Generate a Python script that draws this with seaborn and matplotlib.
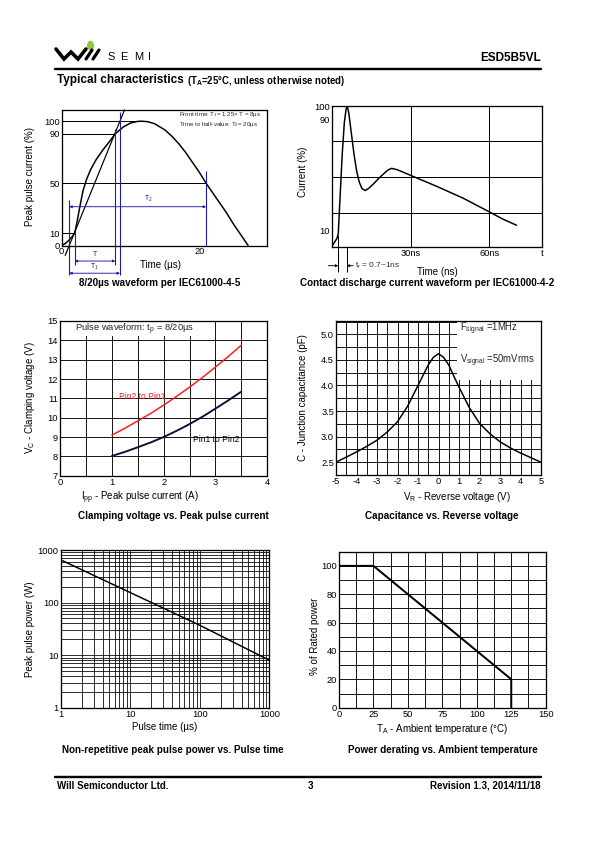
import numpy as np
import pandas as pd
import matplotlib
matplotlib.use("Agg")
import matplotlib.pyplot as plt
import seaborn as sns
from matplotlib.lines import Line2D
from matplotlib.patches import Circle, Rectangle

# ---------------- data ----------------
# 8/20us surge waveform (IEC61000-4-5)
wave_t = [0, 0.5, 1, 1.5, 1.9, 2.3, 2.7, 3.1, 3.6, 4.2, 5, 6, 7, 7.8, 9, 10, 11, 11.6,
          12.5, 13.5, 15, 16, 17, 18, 19, 20, 21, 22, 23, 24, 25, 26, 27.1]
wave_i = [0, 1.5, 4, 7, 10, 21, 33, 44, 53, 61, 69, 77, 84, 90, 95.5, 98.5, 99.8, 100,
          99.6, 98, 93, 88, 82, 75, 67, 59, 50, 42, 34, 26, 17, 9, 0]
ramp_t = [0.51, 9.13]
ramp_i = [-8, 109]
ref_levels = [100, 90, 50, 10]
ref_ends = [11.6, 7.8, 21, 1.9]

# ESD contact discharge waveform (IEC61000-4-2)
esd_t = [0, 1, 2, 2.5, 3.2, 4, 4.8, 5.5, 5.9, 6.5, 7.5, 8.5, 9.5, 10.5, 11.5, 12.7, 14, 16,
         18, 20, 21.5, 22.8, 25, 30, 40, 50, 60, 65, 70.3]
esd_i = [-1.5, 1.5, 4.5, 8, 35, 65, 88, 98, 100, 95, 80, 65, 53, 45, 40.5, 39, 40.5, 44,
         48, 51.5, 54, 55, 54, 50, 42, 33.5, 23.6, 18.5, 14]

# Clamping voltage vs peak pulse current
ipp = [1, 1.25, 1.5, 1.75, 2, 2.25, 2.5, 2.75, 3, 3.25, 3.5]
vc_pin2_pin1 = [9.1, 9.45, 9.83, 10.22, 10.65, 11.1, 11.58, 12.08, 12.62, 13.17, 13.75]
vc_pin1_pin2 = [8.02, 8.23, 8.47, 8.72, 9.0, 9.32, 9.67, 10.05, 10.47, 10.9, 11.35]

# Capacitance vs reverse voltage
vr = [-5, -4.5, -4, -3.5, -3, -2.5, -2, -1.5, -1, -0.75, -0.5, -0.25, 0,
      0.25, 0.5, 0.75, 1, 1.5, 2, 2.5, 3, 3.5, 4, 4.5, 5]
cj = [2.5, 2.6, 2.7, 2.81, 2.93, 3.09, 3.29, 3.6, 4.0, 4.2, 4.4, 4.55, 4.62,
      4.55, 4.4, 4.18, 3.97, 3.57, 3.26, 3.06, 2.9, 2.78, 2.68, 2.59, 2.5]

# Peak pulse power vs pulse time
tp = [1, 10, 100, 1000]
ppk = [650, 155, 37, 8]

# Power derating
ta = [0, 25, 125, 125]
prated = [100, 100, 20, 0]

# ---------------- style ----------------
sns.set_theme(style="white")
plt.rcParams['font.family'] = ['Liberation Sans', 'DejaVu Sans']
plt.rcParams['mathtext.fontset'] = 'custom'
plt.rcParams['mathtext.rm'] = 'Liberation Sans'
plt.rcParams['mathtext.it'] = 'Liberation Sans:italic'
plt.rcParams['mathtext.bf'] = 'Liberation Sans:bold'
plt.rcParams['axes.unicode_minus'] = False

W, H = 595, 842
fig = plt.figure(figsize=(W / 72, H / 72), dpi=72)
fig.patch.set_facecolor('white')

BLUE = '#1c1ca0'
TICK_FS = 9.2
LAB_FS = 9.8
TITLE_FS = 9.9


def fx(px):
    return px / W


def fy(py):
    return 1 - py / H


def make_ax(box):
    l, r, t, b = box
    ax = fig.add_axes([l / W, 1 - b / H, (r - l) / W, (b - t) / H])
    for s in ax.spines.values():
        s.set_color('black')
        s.set_linewidth(1.3)
        s.set_zorder(5)
    ax.tick_params(length=0, labelsize=TICK_FS, pad=2, colors='black')
    ax.set_facecolor('white')
    return ax


def afrac(box, px, py):
    l, r, t, b = box
    return (px - l) / (r - l), (b - py) / (b - t)


def xlabel(ax, box, s, px, py):
    ax.set_xlabel(s, fontsize=LAB_FS, color='black')
    ax.xaxis.label.set_verticalalignment('center')
    ax.xaxis.set_label_coords(*afrac(box, px, py))


def ylabel(ax, box, s, px, py):
    ax.set_ylabel(s, fontsize=LAB_FS, color='black')
    ax.yaxis.label.set_verticalalignment('center')
    ax.yaxis.set_label_coords(*afrac(box, px, py))


def ftext(px, py, s, **kw):
    kw.setdefault('va', 'center')
    kw.setdefault('color', 'black')
    fig.text(fx(px), fy(py), s, **kw)


def grid_black(ax, lw=0.9):
    ax.grid(True, which='both', color='black', linewidth=lw)
    ax.set_axisbelow(True)
    ax.tick_params(which='minor', length=0)


# ---------------- header / footer ----------------
logo_x = [56, 64, 71, 78, 86]
logo_y = [49, 59, 52, 59, 49]
fig.add_artist(Line2D([fx(v) for v in logo_x], [fy(v) for v in logo_y],
                      color='black', lw=3.6, solid_joinstyle='miter'))
fig.add_artist(Line2D([fx(86), fx(92)], [fy(59), fy(50)], color='black', lw=3.2))
fig.add_artist(Line2D([fx(93), fx(99)], [fy(59), fy(50)], color='black', lw=3.2))
fig.add_artist(Circle((fx(90.5), fy(45.5)), 3.0 / W, transform=fig.transFigure,
                      color='#8cc63e'))
for ch, x0 in zip("SEMI", [107, 120, 134, 148]):
    ftext(x0, 57, ch, fontsize=11, ha='left')
ftext(541, 58, "ESD5B5VL", fontsize=11.8, fontweight='bold', ha='right')
fig.add_artist(Line2D([fx(55), fx(541)], [fy(68.5), fy(68.5)], color='black', lw=2.4))
ftext(57, 80, "Typical characteristics", fontsize=11.8, fontweight='bold', ha='left')
ftext(187, 80.5, r"(T$_{\mathbf{A}}$=25°C, unless otherwise noted)", fontsize=9.6,
      fontweight='bold', ha='left')

fig.add_artist(Line2D([fx(55), fx(541)], [fy(777), fy(777)], color='black', lw=2.4))
ftext(57, 786, "Will Semiconductor Ltd.", fontsize=9.8, fontweight='bold', ha='left')
ftext(310, 786, "3", fontsize=9.8, fontweight='bold', ha='center')
ftext(541, 786, "Revision 1.3, 2014/11/18", fontsize=9.8, fontweight='bold', ha='right')

# ---------------- chart 1: 8/20us ----------------
box1 = (61.7, 267, 110, 245.5)
ax1 = make_ax(box1)
sns.lineplot(x=wave_t, y=wave_i, ax=ax1, color='black', lw=1.5, sort=False, estimator=None)
sns.lineplot(x=ramp_t, y=ramp_i, ax=ax1, color='black', lw=1.2, sort=False,
             estimator=None, clip_on=False)
ax1.hlines(ref_levels, 0, ref_ends, color='black', lw=1.0)
ax1.set_xlim(0, 29.85)
ax1.set_ylim(0, 109)
ax1.set_yticks([0, 10, 50, 90, 100])
ax1.set_xticks([0, 20])
for x0, y0, y1 in [(1.1, -23.8, 36.6), (1.9, -15.7, 11.1), (7.8, -15.7, 93.5),
                   (8.47, -23.8, 107.7), (21, 0, 60)]:
    ax1.vlines(x0, y0, y1, color=BLUE, lw=1.1, clip_on=False)


def darrow(ax, x0, x1, y, color=BLUE):
    ax.annotate('', xy=(x1, y), xytext=(x0, y), annotation_clip=False,
                arrowprops=dict(arrowstyle='<|-|>', color=color, lw=0.9,
                                shrinkA=0, shrinkB=0, mutation_scale=5))


darrow(ax1, 1.1, 21, 31.2)
ax1.text(12.6, 33.5, r"T$_2$", color=BLUE, fontsize=7, ha='center', va='bottom')
darrow(ax1, 1.9, 7.8, -12.5)
ax1.text(4.85, -7.0, "T", color=BLUE, fontsize=7, ha='center', va='center', clip_on=False)
darrow(ax1, 1.1, 8.47, -22.3)
ax1.text(4.8, -17.0, r"T$_1$", color=BLUE, fontsize=7, ha='center', va='center',
         clip_on=False)
ax1.text(17.0, 105, r"Front time: T$_1$= 1.25× T = 8µs", fontsize=6.1, ha='left', va='center')
ax1.text(17.0, 97, r"Time to half-value: T$_2$= 20µs", fontsize=6.1, ha='left', va='center')
xlabel(ax1, box1, "Time (µs)", 160, 265)
ylabel(ax1, box1, "Peak pulse current (%)", 30, 177)
ftext(160, 282.5, "8/20µs waveform per IEC61000-4-5", fontsize=TITLE_FS,
      fontweight='bold', ha='center')

# ---------------- chart 2: ESD waveform ----------------
box2 = (331.7, 542, 106, 246.7)
ax2 = make_ax(box2)
sns.lineplot(x=esd_t, y=esd_i, ax=ax2, color='black', lw=1.5, sort=False, estimator=None)
ax2.set_xlim(0, 80)
ax2.set_ylim(-1.5, 100)
ax2.set_yticks([10, 90, 100])
ax2.set_yticks([22.9, 48.8, 74.4], minor=True)
ax2.set_xticks([30, 60, 80], labels=['30ns', '60ns', 't'])
ax2.xaxis.grid(True, which='major', color='black', lw=1.0)
ax2.yaxis.grid(True, which='minor', color='black', lw=1.0)
ax2.tick_params(which='minor', length=0)
ax2.tick_params(axis='y', length=3, direction='in', width=1)
ax2.vlines(2.5, -19.5, 7, color='black', lw=1.0, clip_on=False)
ax2.vlines(5.7, -19.5, -1.5, color='black', lw=1.0, clip_on=False)
for xs, xe in [(-1.3, 2.5), (8.2, 5.7)]:
    ax2.annotate('', xy=(xe, -15.2), xytext=(xs, -15.2), annotation_clip=False,
                 arrowprops=dict(arrowstyle='-|>', color='black', lw=0.9,
                                 shrinkA=0, shrinkB=0, mutation_scale=5))
ax2.text(8.8, -15.2, r"t$_r$ = 0.7~1ns", fontsize=8.3, ha='left', va='center', clip_on=False)
xlabel(ax2, box2, "Time (ns)", 437, 271.5)
ylabel(ax2, box2, "Current (%)", 303.5, 172)
ftext(426.7, 282.5, "Contact discharge current waveform per IEC61000-4-2",
      fontsize=TITLE_FS, fontweight='bold', ha='center')

# ---------------- chart 3: clamping voltage ----------------
box3 = (60, 267.3, 321, 475.7)
ax3 = make_ax(box3)
grid_black(ax3)
sns.lineplot(x=ipp, y=vc_pin2_pin1, ax=ax3, color='#ff1a1a', lw=1.5, estimator=None)
sns.lineplot(x=ipp, y=vc_pin1_pin2, ax=ax3, color='#0d0d3a', lw=1.9, estimator=None)
ax3.set_xlim(0, 4)
ax3.set_ylim(7, 15)
ax3.set_xticks(np.arange(0, 4.01, 1))
ax3.set_xticks(np.arange(0, 4.01, 0.5), minor=True)
ax3.set_yticks(np.arange(7, 15.01, 1))
ax3.add_patch(Rectangle((0.19, 14.22), 2.38, 0.78, facecolor='white', edgecolor='none',
                        zorder=3))
ax3.text(0.29, 14.57, r"Pulse waveform: t$_{\rm p}$ = 8/20µs", fontsize=9.4,
         ha='left', va='center', zorder=4)
ax3.text(1.13, 11.1, "Pin2 to Pin1", color='#ff1a1a', fontsize=8.5, ha='left', va='center')
ax3.text(2.57, 8.88, "Pin1 to Pin2", color='black', fontsize=8.5, ha='left', va='center')
xlabel(ax3, box3, r"I$_{\rm pp}$ - Peak pulse current (A)", 140, 497.5)
ylabel(ax3, box3, r"V$_{\rm C}$ - Clamping voltage (V)", 30, 398)
ftext(173.3, 516, "Clamping voltage vs. Peak pulse current", fontsize=TITLE_FS,
      fontweight='bold', ha='center')

# ---------------- chart 4: capacitance ----------------
box4 = (336, 541, 321, 475)
ax4 = make_ax(box4)
grid_black(ax4)
sns.lineplot(x=vr, y=cj, ax=ax4, color='black', lw=1.5, estimator=None)
ax4.set_xlim(-5, 5)
ax4.set_ylim(2.27, 5.26)
ax4.set_xticks(np.arange(-5, 5.01, 1), labels=[str(int(v)) for v in np.arange(-5, 5.01, 1)])
ax4.set_xticks(np.arange(-5, 5.01, 0.5), minor=True)
ax4.set_yticks(np.arange(2.5, 5.01, 0.5), labels=[f"{v:.1f}" for v in np.arange(2.5, 5.01, 0.5)])
ax4.set_yticks(np.arange(2.25, 5.26, 0.25), minor=True)
ax4.add_patch(Rectangle((0.89, 4.11), 4.11, 1.15, facecolor='white', edgecolor='none',
                        zorder=3))
ax4.text(1.05, 5.11, r"F$_{\rm signal}$ =1MHz", fontsize=9.5, ha='left', va='center', zorder=4)
ax4.text(1.05, 4.48, r"V$_{\rm signal}$ =50mVrms", fontsize=9.5, ha='left', va='center',
         zorder=4)
xlabel(ax4, box4, r"V$_{\rm R}$ - Reverse voltage (V)", 456.7, 497.5)
ylabel(ax4, box4, "C - Junction capacitance (pF)", 302.5, 398)
ftext(441.7, 516, "Capacitance vs. Reverse voltage", fontsize=TITLE_FS,
      fontweight='bold', ha='center')

# ---------------- chart 5: peak pulse power ----------------
box5 = (60.7, 269.3, 550, 707.7)
ax5 = make_ax(box5)
ax5.set_xscale('log')
ax5.set_yscale('log')
sns.lineplot(x=tp, y=ppk, ax=ax5, color='black', lw=1.5, estimator=None)
ax5.set_xlim(1, 1000)
ax5.set_ylim(1, 1000)
grid_black(ax5, lw=0.8)
ax5.set_xticks([1, 10, 100, 1000], labels=['1', '10', '100', '1000'])
ax5.set_yticks([1, 10, 100, 1000], labels=['1', '10', '100', '1000'])
ax5.tick_params(which='minor', labelleft=False, labelbottom=False)
xlabel(ax5, box5, "Pulse time (µs)", 165, 727)
ylabel(ax5, box5, "Peak pulse power (W)", 30, 629)
ftext(172.7, 750, "Non-repetitive peak pulse power vs. Pulse time", fontsize=TITLE_FS,
      fontweight='bold', ha='center')

# ---------------- chart 6: power derating ----------------
box6 = (339, 545.7, 551.7, 707.7)
ax6 = make_ax(box6)
grid_black(ax6)
sns.lineplot(x=ta, y=prated, ax=ax6, color='black', lw=2.0, sort=False, estimator=None)
ax6.set_xlim(0, 150)
ax6.set_ylim(0, 110)
ax6.set_xticks(np.arange(0, 151, 25))
ax6.set_xticks(np.arange(0, 151, 12.5), minor=True)
ax6.set_yticks(np.arange(0, 101, 20))
ax6.set_yticks(np.arange(0, 111, 10), minor=True)
xlabel(ax6, box6, r"T$_{\rm A}$ - Ambient temperature (°C)", 441.7, 729.5)
ylabel(ax6, box6, "% of Rated power", 315, 636)
ftext(443.3, 750, "Power derating vs. Ambient temperature", fontsize=TITLE_FS,
      fontweight='bold', ha='center')

for ax in [ax1, ax2, ax3, ax4, ax5, ax6]:
    leg = ax.get_legend()
    if leg is not None:
        leg.remove()

fig.savefig("out.png", dpi=72, facecolor='white')
